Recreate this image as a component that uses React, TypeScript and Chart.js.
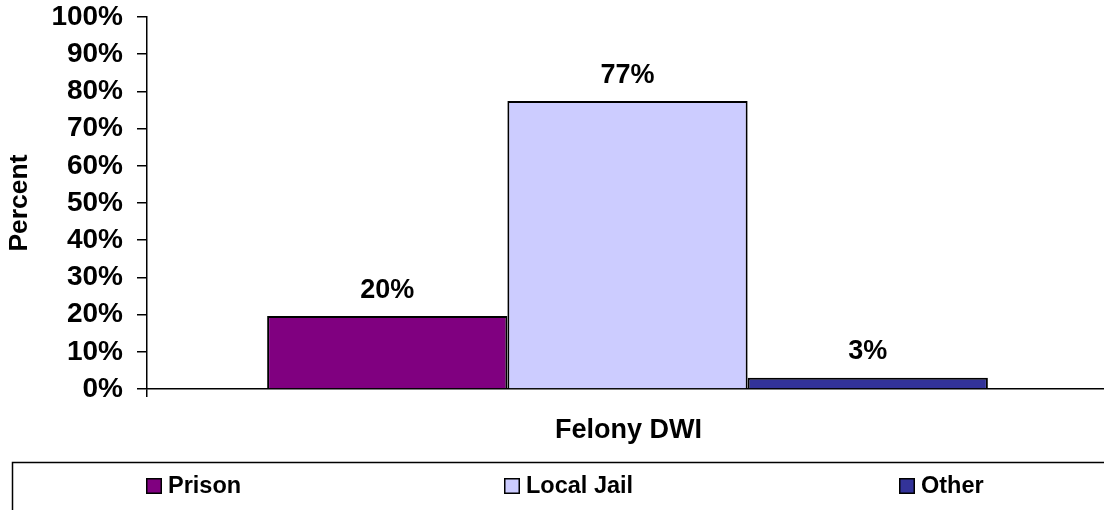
import React, { useEffect, useRef } from "react";
import { Chart, registerables } from "chart.js";

Chart.register(...registerables);

const categories = ["Felony DWI"];
const seriesNames = ["Prison", "Local Jail", "Other"];
const prisonValues = [19.6];
const localJailValues = [77.4];
const otherValues = [3.0];
const seriesColors = ["#800080", "#CCCCFF", "#333399"];
const yTickValues = [0, 10, 20, 30, 40, 50, 60, 70, 80, 90, 100];
const yAxisTitle = "Percent";

const FONT = '"Liberation Sans", Arial, Helvetica, sans-serif';
const W = 1112;
const H = 510;

const decorPlugin = {
  id: "decor",
  afterDraw(chart: any) {
    const ctx = chart.ctx as CanvasRenderingContext2D;
    const area = chart.chartArea;
    ctx.save();
    ctx.fillStyle = "#000";
    // data labels
    ctx.font = `bold 27px ${FONT}`;
    ctx.textAlign = "center";
    ctx.textBaseline = "alphabetic";
    chart.data.datasets.forEach((ds: any, i: number) => {
      const meta = chart.getDatasetMeta(i);
      meta.data.forEach((el: any, j: number) => {
        const v = ds.data[j];
        ctx.fillText(Math.round(v) + "%", el.x, el.y - 18.5);
      });
    });
    // y axis title
    ctx.save();
    ctx.translate(27, (area.top + area.bottom) / 2);
    ctx.rotate(-Math.PI / 2);
    ctx.font = `bold 26.5px ${FONT}`;
    ctx.textAlign = "center";
    ctx.textBaseline = "alphabetic";
    ctx.fillText(yAxisTitle, 0, 0);
    ctx.restore();
    // x category label
    const xs = chart.scales.x;
    ctx.font = `bold 27px ${FONT}`;
    ctx.textAlign = "center";
    categories.forEach((c, i) => {
      ctx.fillText(c, xs.getPixelForValue(i) + 1, 438);
    });
    // legend box
    ctx.strokeStyle = "#000";
    ctx.lineWidth = 1.5;
    ctx.strokeRect(12.5, 462.5, W + 40, 100);
    const legendX = [146, 504, 899];
    ctx.font = `bold 23.5px ${FONT}`;
    ctx.textAlign = "left";
    ctx.textBaseline = "middle";
    seriesNames.forEach((name, i) => {
      const x = legendX[i];
      ctx.fillStyle = seriesColors[i];
      ctx.fillRect(x, 478, 16, 16);
      ctx.lineWidth = 1.5;
      ctx.strokeStyle = "#000";
      ctx.strokeRect(x + 0.75, 478.75, 14.5, 14.5);
      ctx.fillStyle = "#000";
      ctx.fillText(name, x + 22, 486.5);
    });
    ctx.restore();
  },
};

export default function App() {
  const ref = useRef<HTMLCanvasElement | null>(null);
  useEffect(() => {
    document.body.style.overflow = "hidden";
    const canvas = ref.current;
    if (!canvas) return;
    const chart = new Chart(canvas, {
      type: "bar",
      data: {
        labels: categories,
        datasets: [
          { label: seriesNames[0], data: prisonValues, backgroundColor: seriesColors[0], borderColor: "#000", borderWidth: 2 },
          { label: seriesNames[1], data: localJailValues, backgroundColor: seriesColors[1], borderColor: "#000", borderWidth: 2 },
          { label: seriesNames[2], data: otherValues, backgroundColor: seriesColors[2], borderColor: "#000", borderWidth: 2 },
        ],
      },
      options: {
        responsive: false,
        animation: false,
        devicePixelRatio: 1,
        layout: { padding: { top: 17, right: 4, left: 0, bottom: 0 } },
        datasets: { bar: { categoryPercentage: 0.75, barPercentage: 1 } },
        plugins: { legend: { display: false }, tooltip: { enabled: false }, title: { display: false } },
        scales: {
          x: {
            type: "category",
            offset: true,
            grid: { display: true, drawOnChartArea: false, drawTicks: true, tickLength: 8, color: "#000", lineWidth: 1.5, offset: true },
            border: { display: true, color: "#000", width: 1.5 },
            ticks: { display: false },
            afterFit: (s: any) => { s.height = 121; s.paddingLeft = 0; s.paddingRight = 0; },
          },
          y: {
            min: 0,
            max: 100,
            afterBuildTicks: (s: any) => { s.ticks = yTickValues.map((v) => ({ value: v })); },
            ticks: {
              autoSkip: false,
              callback: (v: any) => v + "%",
              color: "#000",
              font: { size: 28, weight: "bold", family: FONT },
              padding: 14,
            },
            grid: { drawOnChartArea: false, drawTicks: true, tickLength: 10, color: "#000", lineWidth: 1.5 },
            border: { display: true, color: "#000", width: 1.5 },
            afterFit: (s: any) => { s.width = 147; s.paddingTop = 0; s.paddingBottom = 0; },
          },
        },
      },
      plugins: [decorPlugin],
    } as any);
    return () => chart.destroy();
  }, []);
  return (
    <div style={{ position: "fixed", left: 0, top: 0, width: W, height: H, background: "#fff" }}>
      <canvas ref={ref} width={W} height={H} style={{ display: "block", width: W, height: H }} />
    </div>
  );
}
